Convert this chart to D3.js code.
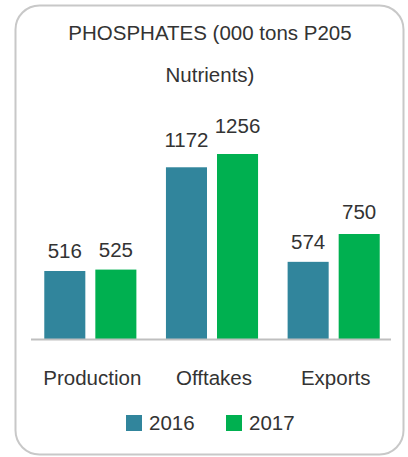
<!DOCTYPE html>
<html>
<head>
  <meta charset="utf-8">
  <script src="https://d3js.org/d3.v7.min.js"></script>
  <style>
    body {
      margin: 0;
      background-color: #ffffff;
      font-family: "Liberation Sans", Arial, sans-serif;
    }
    text {
      fill: #333333;
      font-size: 20.5px;
    }
  </style>
</head>
<body>
  <script type="text/javascript">
    // chart data
    var categories = ["Production", "Offtakes", "Exports"];
    var years = ["2016", "2017"];
    var values2016 = [516, 1172, 574];
    var values2017 = [525, 1256, 750];
    var titleLines = ["PHOSPHATES (000 tons P205", "Nutrients)"];

    var colors = { "2016": "#31859c", "2017": "#00b050" };

    var width = 408,
        height = 457;

    var svg = d3.select("body")
        .append("svg")
        .attr("width", width)
        .attr("height", height);

    // rounded frame
    svg.append("rect")
        .attr("x", 15.5)
        .attr("y", 5.5)
        .attr("width", 388)
        .attr("height", 449)
        .attr("rx", 24)
        .attr("ry", 24)
        .style("fill", "none")
        .style("stroke", "#c8c8c8")
        .style("stroke-width", 2);

    // title on two lines
    svg.selectAll("text.title")
        .data(titleLines)
        .enter()
        .append("text")
        .attr("class", "title")
        .attr("x", 210)
        .attr("y", function (d, i) { return 39.5 + i * 42; })
        .style("text-anchor", "middle")
        .text(function (d) { return d; });

    var rows = categories.map(function (c, i) {
      return { category: c, values: [
        { year: "2016", value: values2016[i] },
        { year: "2017", value: values2017[i] }
      ] };
    });

    var x0 = d3.scaleBand()
        .domain(categories)
        .range([29.5, 394.5])
        .paddingInner(0.243)
        .paddingOuter(0.1215);

    var x1 = d3.scaleBand()
        .domain(years)
        .range([0, x0.bandwidth()])
        .paddingInner(0.196);

    // value axis does not start at zero
    var yMin = 86;
    var y = d3.scaleLinear()
        .domain([yMin, d3.max(values2017.concat(values2016))])
        .range([339, 154]);

    // data labels sit on their own scale
    var yLabel = d3.scaleLinear()
        .domain([0, d3.max(values2017.concat(values2016))])
        .range([345.5, 133.3]);

    var groups = svg.selectAll("g.group")
        .data(rows)
        .enter()
        .append("g")
        .attr("class", "group")
        .attr("transform", function (d) { return "translate(" + x0(d.category) + ",0)"; });

    groups.selectAll("rect")
        .data(function (d) { return d.values; })
        .enter()
        .append("rect")
        .attr("x", function (d) { return x1(d.year); })
        .attr("y", function (d) { return y(d.value); })
        .attr("width", x1.bandwidth())
        .attr("height", function (d) { return y(yMin) - y(d.value); })
        .style("fill", function (d) { return colors[d.year]; });

    groups.selectAll("text.value")
        .data(function (d) { return d.values; })
        .enter()
        .append("text")
        .attr("class", "value")
        .attr("x", function (d) { return x1(d.year) + x1.bandwidth() / 2; })
        .attr("y", function (d) { return yLabel(d.value); })
        .style("text-anchor", "middle")
        .text(function (d) { return d.value; });

    // baseline
    svg.append("line")
        .attr("x1", 31)
        .attr("x2", 391)
        .attr("y1", 339.5)
        .attr("y2", 339.5)
        .style("stroke", "#bfbfbf")
        .style("stroke-width", 2);

    // category labels
    svg.selectAll("text.cat")
        .data(categories)
        .enter()
        .append("text")
        .attr("class", "cat")
        .attr("x", function (d) { return x0(d) + x0.bandwidth() / 2 + 2; })
        .attr("y", 384.5)
        .style("text-anchor", "middle")
        .text(function (d) { return d; });

    // legend
    var legend = svg.selectAll("g.legend")
        .data(years)
        .enter()
        .append("g")
        .attr("class", "legend")
        .attr("transform", function (d, i) { return "translate(" + (126 + i * 100) + ",415)"; });

    legend.append("rect")
        .attr("width", 16)
        .attr("height", 16)
        .style("fill", function (d) { return colors[d]; });

    legend.append("text")
        .attr("x", 23)
        .attr("y", 15)
        .text(function (d) { return d; });
  </script>
</body>
</html>
